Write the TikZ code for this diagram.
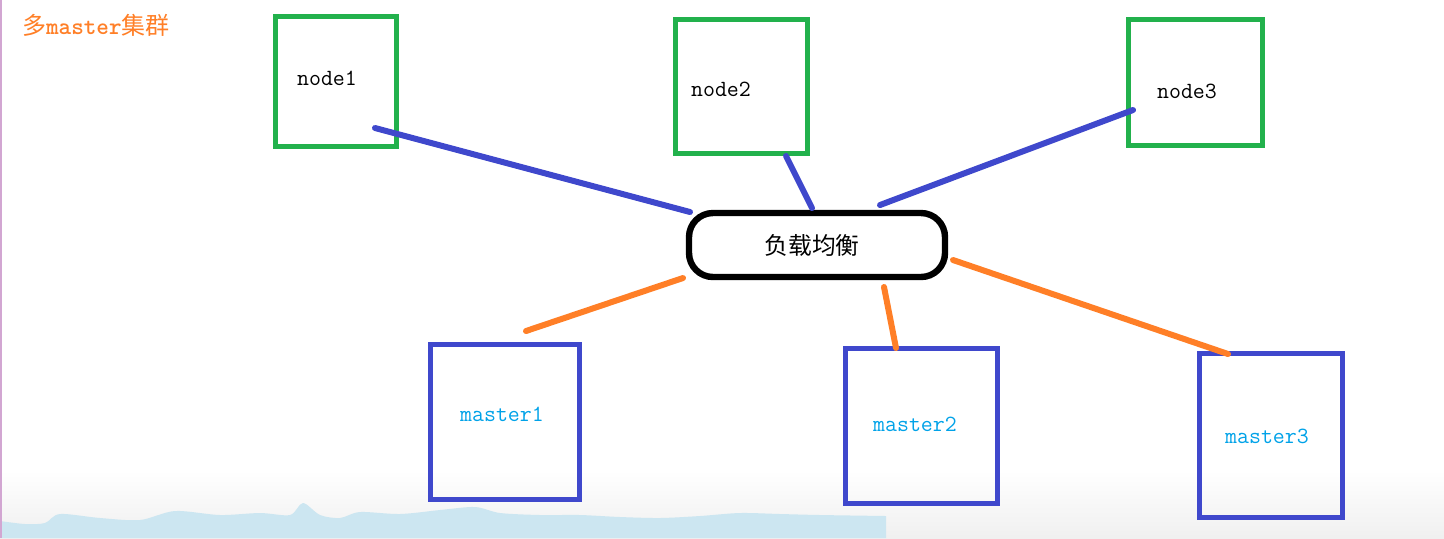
\documentclass[tikz,border=0pt]{standalone}
\usepackage{fontspec}
\newfontfamily\cjk{Noto Sans CJK SC}
\usetikzlibrary{positioning}
\definecolor{paintgreen}{RGB}{34,177,76}
\definecolor{paintblue}{RGB}{63,72,204}
\definecolor{paintorange}{RGB}{255,127,39}
\definecolor{painttext}{RGB}{0,162,232}
\definecolor{wavecol}{RGB}{204,230,241}

\begin{document}
\begin{tikzpicture}[x=0.5pt,y=-0.5pt,
    greenbox/.style={draw=paintgreen, line width=2.5pt, inner sep=0pt},
    bluebox/.style={draw=paintblue, line width=2.5pt, inner sep=0pt},
    lbbox/.style={draw=black, fill=white, line width=3.2pt, rounded corners=12pt,
      minimum width=128pt, minimum height=32pt, inner sep=0pt},
    nodetext/.style={font=\fontsize{11.6}{13}\ttfamily, text=black},
    mastertext/.style={font=\fontsize{11.6}{13}\ttfamily, text=painttext},
    bluelink/.style={draw=paintblue, line width=3pt, line cap=round},
    orangelink/.style={draw=paintorange, line width=3pt, line cap=round}]
      \useasboundingbox (0,0) rectangle (1444,538);
      % background at the bottom
      \shade[top color=white, bottom color=black!6] (0,470) rectangle (1444,538);
      \fill[wavecol] plot[smooth] coordinates {(0,521) (25,524) (45,523) (60,514) (100,518)
        (140,520) (175,511) (220,515) (260,513) (290,515) (303,503) (320,515) (340,518)
        (360,512) (400,514) (440,510) (475,507) (500,513) (540,515) (580,515) (620,517)
        (660,518) (700,516) (740,513) (780,514) (820,515) (886,516)}
        -- (886,538) -- (0,538) -- cycle;
      \draw[violet!35, line width=1pt] (0.5,0) -- (0.5,538);
      % title
      \node (title) [anchor=west, text=paintorange, font=\fontsize{12}{13}\selectfont]
        at (15,25) {{\cjk 多}{\ttfamily\bfseries master}{\cjk 集群}};
      % node boxes
      \node (n1) [greenbox, minimum width=60.5pt, minimum height=65pt] at (335.5,81) {};
      \node (n2) [greenbox, minimum width=66pt, minimum height=67pt] at (741.5,86.5) {};
      \node (n3) [greenbox, minimum width=67pt, minimum height=63pt] at (1195.5,82.5) {};
      \node (n1t) [nodetext] at (327,78) {node1};
      \node (n2t) [nodetext] at (721,89) {node2};
      \node (n3t) [nodetext] at (1187,91) {node3};
      % master boxes
      \node (m1) [bluebox, minimum width=74.5pt, minimum height=77.5pt] at (505,422) {};
      \node (m2) [bluebox, minimum width=76pt, minimum height=77.5pt] at (921.5,426) {};
      \node (m3) [bluebox, minimum width=71.5pt, minimum height=82pt] at (1271,435.5) {};
      \node (m1t) [mastertext] at (502,414) {master1};
      \node (m2t) [mastertext] at (915,424) {master2};
      \node (m3t) [mastertext] at (1267,436) {master3};
      % load balancer
      \node (lb) [lbbox] at (817,245) {};
      \node (lbt) [font=\fontsize{11.9}{14}\cjk] at (812,245) {负载均衡};
      % links
      \draw[bluelink] ([shift={(39.5,47)}]n1.center) -- ([shift={(-127,-33)}]lb.center);
      \draw[bluelink] ([shift={(44.5,69.5)}]n2.center) -- ([shift={(-5,-37)}]lb.center);
      \draw[bluelink] ([shift={(-62.5,27.5)}]n3.center) -- ([shift={(63,-40)}]lb.center);
      \draw[orangelink] ([shift={(-134,33)}]lb.center) -- ([shift={(21,-91)}]m1.center);
      \draw[orangelink] ([shift={(67,42)}]lb.center) -- ([shift={(-25.5,-78)}]m2.center);
      \draw[orangelink] ([shift={(136,15)}]lb.center) -- ([shift={(-43,-81.5)}]m3.center);
    \end{tikzpicture}
\end{document}
